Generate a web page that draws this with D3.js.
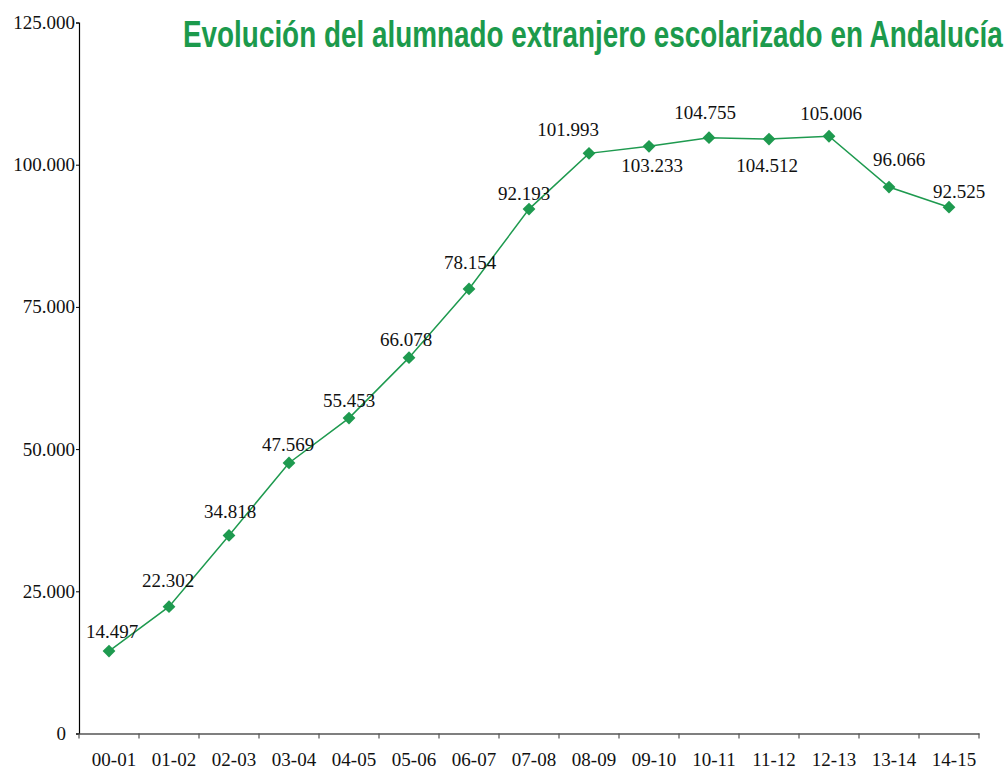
<!DOCTYPE html>
<html>
<head>
<meta charset="utf-8">
<script src="https://cdn.jsdelivr.net/npm/d3@7"></script>
<style>
  body { margin: 0; background: #fff; }
</style>
</head>
<body>
<svg id="chart"></svg>
<script>
// data
var courses = ["00-01", "01-02", "02-03", "03-04", "04-05", "05-06", "06-07", "07-08",
               "08-09", "09-10", "10-11", "11-12", "12-13", "13-14", "14-15"];
var students = [14497, 22302, 34818, 47569, 55453, 66078, 78154, 92193,
                101993, 103233, 104755, 104512, 105006, 96066, 92525];
var yTicks = [0, 25000, 50000, 75000, 100000, 125000];

// label placement (pixels relative to each point: dx, dy of baseline)
var labelOffsets = [[3, -13], [-1, -20], [1, -17], [-1, -12], [0, -11], [-3, -12], [1, -20], [-5, -9],
                    [-21, -17], [3, 26], [-4, -19], [-2, 33], [2, -16], [10, -21], [10, -9]];

var width = 1008, height = 769;
var green = "#1e9a4f";
var numFont = "'Liberation Serif', 'Times New Roman', serif";
var svg = d3.select("#chart").attr("width", width).attr("height", height);

var x = d3.scaleBand().domain(courses).range([79, 979]);
var y = d3.scaleLinear().domain([0, 125000]).range([733.5, 22.5]);

var locale = d3.formatLocale({ decimal: ",", thousands: ".", grouping: [3], currency: ["", "€"] });
var fmt = locale.format(",d");

// y axis
var yAxis = svg.append("g")
    .attr("transform", "translate(79,0)")
    .call(d3.axisLeft(y).tickValues(yTicks).tickSize(3).tickPadding(1).tickFormat(fmt));
yAxis.select(".domain").attr("stroke", "#000").attr("stroke-width", 1.2);
yAxis.selectAll(".tick line").attr("stroke", "#000");
yAxis.selectAll(".tick text")
    .style("font-family", numFont)
    .style("font-size", "19px")
    .attr("fill", "#111")
    .attr("dx", function (d) { return d === 0 ? -9 : 0; });

// x axis
var xAxis = svg.append("g")
    .attr("transform", "translate(0," + y(0) + ")")
    .call(d3.axisBottom(x).tickSize(0).tickPadding(19).tickSizeOuter(0));
xAxis.select(".domain").attr("stroke", "#555").attr("stroke-width", 1.5);
xAxis.selectAll(".tick text")
    .style("font-family", numFont)
    .style("font-size", "19px")
    .attr("fill", "#111")
    .attr("dx", 5);

// tick marks on the band boundaries
var bounds = courses.map(function (c) { return x(c); }).concat([x.range()[1]]);
svg.append("g").selectAll("line")
    .data(bounds)
    .join("line")
    .attr("x1", function (d) { return d; })
    .attr("x2", function (d) { return d; })
    .attr("y1", y(0))
    .attr("y2", y(0) + 5)
    .attr("stroke", "#555")
    .attr("stroke-width", 1.2);

// line
var line = d3.line()
    .x(function (d, i) { return x(courses[i]) + x.bandwidth() / 2; })
    .y(function (d) { return y(d); });

svg.append("path")
    .datum(students)
    .attr("d", line)
    .attr("fill", "none")
    .attr("stroke", green)
    .attr("stroke-width", 1.5);

// markers
svg.append("g").selectAll("path")
    .data(students)
    .join("path")
    .attr("d", d3.symbol().type(d3.symbolSquare).size(82))
    .attr("transform", function (d, i) {
        return "translate(" + (x(courses[i]) + x.bandwidth() / 2) + "," + y(d) + ") rotate(45)";
    })
    .attr("fill", green);

// value labels
svg.append("g").selectAll("text")
    .data(students)
    .join("text")
    .attr("x", function (d, i) { return x(courses[i]) + x.bandwidth() / 2 + labelOffsets[i][0]; })
    .attr("y", function (d, i) { return y(d) + labelOffsets[i][1]; })
    .attr("text-anchor", "middle")
    .style("font-family", numFont)
    .style("font-size", "19px")
    .attr("fill", "#111")
    .text(function (d) { return fmt(d); });

// title, squeezed horizontally to look condensed
var title = svg.append("text")
    .style("font-family", "'Liberation Sans', Arial, sans-serif")
    .style("font-weight", "bold")
    .style("font-size", "37px")
    .attr("fill", "#1c9a4c")
    .text("Evolución del alumnado extranjero escolarizado en Andalucía");
var titleWidth = title.node().getComputedTextLength();
title.attr("transform", "translate(183,47) scale(" + (820 / titleWidth) + ",1)");
</script>
</body>
</html>
